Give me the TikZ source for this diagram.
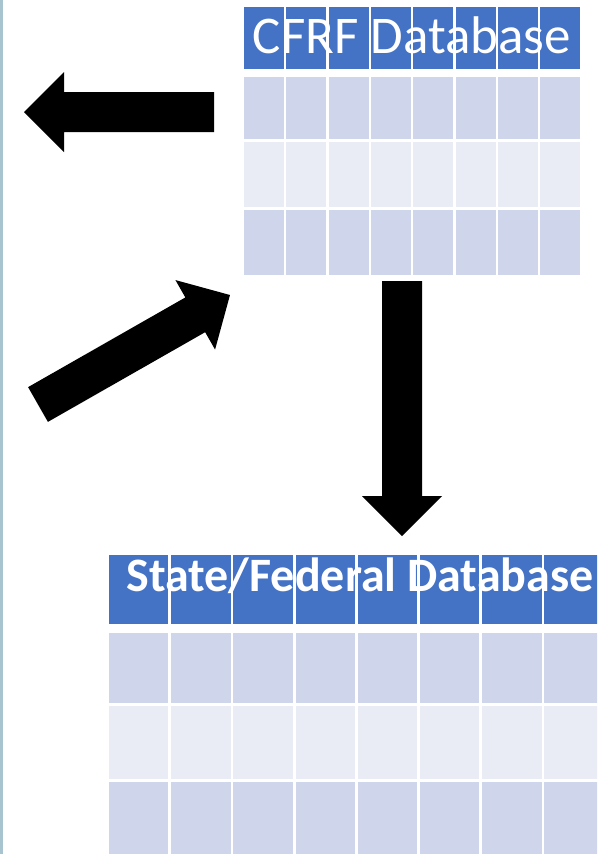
\documentclass[tikz,border=0pt]{standalone}
\usepackage{fontspec}
\setmainfont{Carlito}
\usepackage{tikz}
\usetikzlibrary{calc,positioning}
\usepackage{xcolor}
\definecolor{headblue}{RGB}{68,114,196}
\definecolor{rowdark}{RGB}{207,213,234}
\definecolor{rowlight}{RGB}{233,235,245}
\definecolor{edgegrey}{RGB}{168,196,206}

% block arrow from #1 to #2 (shaft 40, head 80 wide, 40 long)
\newcommand{\blockarrow}[2]{%
  \path let \p1=($(#2)-(#1)$), \n1={atan2(\y1,\x1)}, \n2={veclen(\x1,\y1)} in
    \pgfextra{\xdef\arrang{\n1}\xdef\arrlen{\n2}};
  \fill[black, shift={(#1)}, rotate=\arrang]
    (0,20) -- ({\arrlen-40},20) -- ({\arrlen-40},40) -- ({\arrlen},0)
    -- ({\arrlen-40},-40) -- ({\arrlen-40},-20) -- (0,-20) -- cycle;
}

\begin{document}
\begin{tikzpicture}[x=1pt, y=1pt,
    headtext/.style={text=white, inner sep=0pt, anchor=base}]
    \useasboundingbox (0,0) rectangle (597,-854);
    \clip (0,0) rectangle (597,-854);
    % thin strip of photo at the left edge
    \fill[edgegrey] (0,0) rectangle (2.5,-854);

    % CFRF table: header + three rows, eight columns
    \foreach \c in {0,...,7} {
        \fill[headblue] ({244+\c*42.3},-7) rectangle ++(40,-62);
        \foreach \ya/\yb/\col in {77/139/rowdark, 142/207/rowlight, 210/275/rowdark}
            \fill[\col] ({244+\c*42.3},-\ya) rectangle ({284+\c*42.3},-\yb);
    }
    \node[headtext, font=\fontsize{53}{60}\selectfont] (cfrf) at (412,-53) {CFRF Database};

    % State/Federal table
    \foreach \c in {0,...,7} {
        \fill[headblue] ({109+\c*62.2},-555) rectangle ++(59.4,-69);
        \foreach \ya/\yb/\col in {633/703/rowdark, 706/779/rowlight, 782/860/rowdark}
            \fill[\col] ({109+\c*62.2},-\ya) rectangle ({168.4+\c*62.2},-\yb);
    }
    \node[headtext, font=\fontsize{48}{56}\selectfont\bfseries] (statefed) at (360,-591) {State/Federal Database};

    % arrows
    \coordinate (cfrfleft) at (214,-112);
    \coordinate (outleft) at (24,-112);
    \coordinate (inlow) at (38,-404.5);
    \coordinate (cfrfcorner) at (230,-295);
    \coordinate (cfrfbottom) at (402,-281);
    \coordinate (statetop) at (402,-536);
    \blockarrow{cfrfleft}{outleft}
    \blockarrow{inlow}{cfrfcorner}
    \blockarrow{cfrfbottom}{statetop}
\end{tikzpicture}
\end{document}
